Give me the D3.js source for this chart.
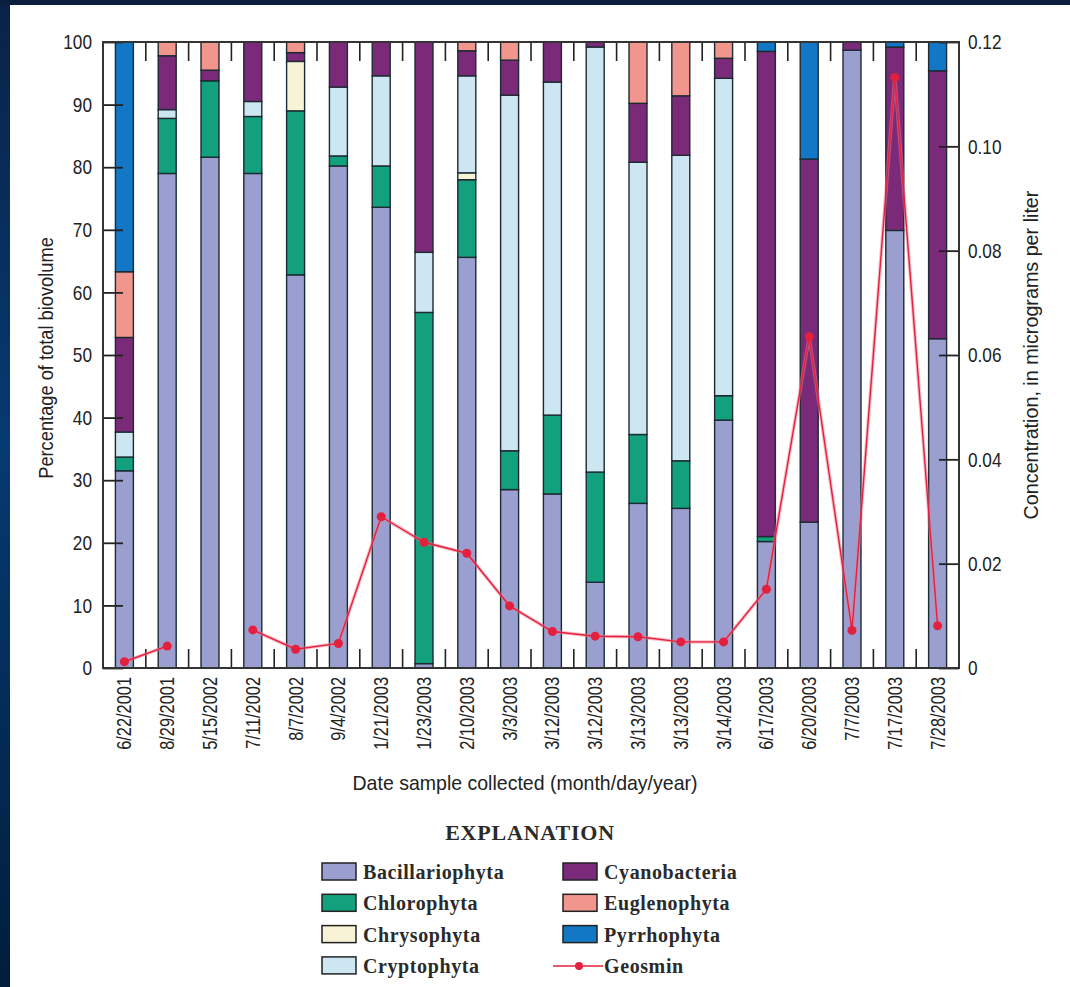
<!DOCTYPE html>
<html>
<head>
<meta charset="utf-8">
<script src="https://cdn.jsdelivr.net/npm/d3@7"></script>
<style>
  html, body { margin: 0; padding: 0; background: #ffffff; }
  svg { display: block; }
  .sans { font-family: "Liberation Sans", Arial, sans-serif; fill: #222; }
  .serif { font-family: "Liberation Serif", "DejaVu Serif", serif; font-weight: bold; fill: #2a2a2a; }
</style>
</head>
<body>
<svg id="chart" width="1070" height="987"></svg>
<script>
// Sample dates (two samples on 3/12 and 3/13/2003)
const dates = ["6/22/2001", "8/29/2001", "5/15/2002", "7/11/2002", "8/7/2002", "9/4/2002",
  "1/21/2003", "1/23/2003", "2/10/2003", "3/3/2003", "3/12/2003", "3/12/2003", "3/13/2003",
  "3/13/2003", "3/14/2003", "6/17/2003", "6/20/2003", "7/7/2003", "7/17/2003", "7/28/2003"];

// Percentage of total biovolume by algal division
const bacillariophyta = [31.5, 79.0, 81.6, 79.0, 62.8, 80.2, 73.6, 0.7, 65.6, 28.5, 27.8, 13.7, 26.3, 25.5, 39.6, 20.2, 23.3, 98.7, 69.9, 52.6];
const chlorophyta     = [2.2, 8.8, 12.2, 9.1, 26.2, 1.6, 6.6, 56.1, 12.4, 6.2, 12.6, 17.6, 11.0, 7.6, 3.9, 0.8, 0, 0, 0, 0];
const chrysophyta     = [0, 0, 0, 0, 7.9, 0, 0, 0, 1.1, 0, 0, 0, 0, 0, 0, 0, 0, 0, 0, 0];
const cryptophyta     = [4.0, 1.4, 0, 2.4, 0, 11.0, 14.4, 9.6, 15.5, 56.8, 53.2, 67.9, 43.5, 48.8, 50.7, 0, 0, 0, 0, 0];
const cyanobacteria   = [15.1, 8.6, 1.7, 9.5, 1.4, 7.2, 5.4, 33.6, 4.0, 5.6, 6.4, 0.8, 9.4, 9.5, 3.2, 77.5, 58.0, 1.3, 29.3, 42.8];
const euglenophyta    = [10.5, 2.2, 4.5, 0, 1.7, 0, 0, 0, 1.4, 2.9, 0, 0, 9.8, 8.6, 2.6, 0, 0, 0, 0, 0];
const pyrrhophyta     = [36.7, 0, 0, 0, 0, 0, 0, 0, 0, 0, 0, 0, 0, 0, 0, 1.5, 18.7, 0, 0.8, 4.6];

// Geosmin concentration, micrograms per liter (null = not sampled)
const geosmin = [0.0012, 0.0042, null, 0.0073, 0.0036, 0.0047, 0.0290, 0.0241, 0.0220, 0.0119,
  0.0070, 0.0061, 0.0060, 0.0050, 0.0050, 0.0151, 0.0635, 0.0072, 0.1132, 0.0081];

const divisions = ["Bacillariophyta", "Chlorophyta", "Chrysophyta", "Cryptophyta", "Cyanobacteria", "Euglenophyta", "Pyrrhophyta"];
const divisionValues = [bacillariophyta, chlorophyta, chrysophyta, cryptophyta, cyanobacteria, euglenophyta, pyrrhophyta];
const divisionColors = ["#9a9fd0", "#13a07c", "#f8f3d6", "#cde7f2", "#7a2a78", "#f1968c", "#1278c6"];

const percentTicks = [0, 10, 20, 30, 40, 50, 60, 70, 80, 90, 100];
const concTicks = [0, 0.02, 0.04, 0.06, 0.08, 0.10, 0.12];

// Horizontal squeeze that gives the sans text a condensed look
const SQ = 0.82;

const svg = d3.select("#chart");

// Navy page frame along the top and left edges
const defs = svg.append("defs");
const grad = defs.append("linearGradient").attr("id", "frameGrad")
  .attr("x1", 0).attr("y1", 0).attr("x2", 0).attr("y2", 1);
grad.append("stop").attr("offset", "0%").attr("stop-color", "#0a2247");
grad.append("stop").attr("offset", "45%").attr("stop-color", "#063a72");
grad.append("stop").attr("offset", "100%").attr("stop-color", "#011d3c");
svg.append("rect").attr("width", 1070).attr("height", 987).attr("fill", "url(#frameGrad)");
svg.append("rect").attr("x", 0).attr("y", 0).attr("width", 1070).attr("height", 5).attr("fill", "#0a1f40");
svg.append("rect").attr("x", 10).attr("y", 5).attr("width", 1060).attr("height", 982).attr("fill", "#ffffff");

const plot = { left: 103, right: 959, top: 42, bottom: 668 };

const x = d3.scaleBand().domain(d3.range(dates.length))
  .range([plot.left, plot.right]).paddingInner(0.58).paddingOuter(0.29);
const y = d3.scaleLinear().domain([0, 100]).range([plot.bottom, plot.top]);
const y2 = d3.scaleLinear().domain([0, 0.12]).range([plot.bottom, plot.top]);

// Stacked bars
const rows = dates.map((d, i) => {
  const r = { i };
  divisions.forEach((k, j) => { r[k] = divisionValues[j][i]; });
  return r;
});
const series = d3.stack().keys(divisions)(rows);

const barG = svg.append("g");
series.forEach((layer, j) => {
  barG.append("g")
    .attr("fill", divisionColors[j])
    .attr("stroke", "#1d2a33")
    .attr("stroke-width", 1.4)
    .selectAll("rect")
    .data(layer.filter(d => d[1] - d[0] > 0))
    .join("rect")
    .attr("x", d => x(d.data.i))
    .attr("width", x.bandwidth())
    .attr("y", d => y(d[1]))
    .attr("height", d => y(d[0]) - y(d[1]));
});

// Category separator ticks along top and bottom edges
const gap = (x.step() - x.bandwidth()) / 2;
const bounds = d3.range(1, dates.length).map(i => x(i) - gap);
const tickG = svg.append("g").attr("stroke", "#222").attr("stroke-width", 1.6);
tickG.selectAll("line.b").data(bounds).join("line").attr("class", "b")
  .attr("x1", d => d).attr("x2", d => d).attr("y1", plot.bottom).attr("y2", plot.bottom - 19);
tickG.selectAll("line.t").data(bounds).join("line").attr("class", "t")
  .attr("x1", d => d).attr("x2", d => d).attr("y1", plot.top).attr("y2", plot.top + 19);

// Left axis (percentage)
const leftAxis = svg.append("g").attr("transform", `translate(${plot.left},0)`)
  .call(d3.axisLeft(y).tickValues(percentTicks).tickSize(-20).tickPadding(11).tickFormat(d3.format("d")));
leftAxis.select(".domain").remove();
leftAxis.selectAll(".tick line").attr("stroke", "#222").attr("stroke-width", 1.8);
leftAxis.selectAll("text").attr("class", "sans").style("font-size", "21px").attr("fill", "#222")
  .attr("x", -11 / SQ).attr("transform", `scale(${SQ},1)`);

// Right axis (concentration)
const rightAxis = svg.append("g").attr("transform", `translate(${plot.right},0)`)
  .call(d3.axisRight(y2).tickValues(concTicks).tickSize(-20).tickPadding(8)
    .tickFormat(d => d === 0 ? "0" : d.toFixed(2)));
rightAxis.select(".domain").remove();
rightAxis.selectAll(".tick line").attr("stroke", "#222").attr("stroke-width", 1.8);
rightAxis.selectAll("text").attr("class", "sans").style("font-size", "21px").attr("fill", "#222")
  .attr("x", 9 / SQ).attr("transform", `scale(${SQ},1)`);

// Plot frame
svg.append("rect")
  .attr("x", plot.left).attr("y", plot.top)
  .attr("width", plot.right - plot.left).attr("height", plot.bottom - plot.top)
  .attr("fill", "none").attr("stroke", "#333").attr("stroke-width", 2);

// Date labels, rotated
svg.append("g").selectAll("text").data(dates).join("text")
  .attr("class", "sans")
  .attr("transform", (d, i) => `translate(${x(i) + x.bandwidth() / 2},${plot.bottom + 9}) rotate(-90) scale(${SQ},1)`)
  .attr("dy", "0.35em")
  .attr("text-anchor", "end")
  .style("font-size", "20px")
  .text(d => d);

// Axis titles
svg.append("text").attr("class", "sans")
  .attr("transform", `translate(46,${(plot.top + plot.bottom) / 2 + 3}) rotate(-90) scale(0.87,1)`)
  .attr("text-anchor", "middle").attr("dy", "0.35em").style("font-size", "21px")
  .text("Percentage of total biovolume");
svg.append("text").attr("class", "sans")
  .attr("transform", `translate(1031,${(plot.top + plot.bottom) / 2}) rotate(-90) scale(0.94,1)`)
  .attr("text-anchor", "middle").attr("dy", "0.35em").style("font-size", "21px")
  .text("Concentration, in micrograms per liter");
svg.append("text").attr("class", "sans")
  .attr("transform", `translate(${(plot.left + plot.right) / 2 - 6},790) scale(0.93,1)`)
  .attr("text-anchor", "middle").style("font-size", "21px")
  .text("Date sample collected (month/day/year)");

// Geosmin line with markers
const pts = geosmin.map((v, i) => ({ i, v }));
const line = d3.line()
  .defined(d => d.v !== null)
  .x(d => x(d.i) + x.bandwidth() / 2)
  .y(d => y2(d.v));
svg.append("path").datum(pts)
  .attr("fill", "none").attr("stroke", "#f27a90").attr("stroke-opacity", 0.5)
  .attr("stroke-width", 3.5).attr("d", line);
svg.append("path").datum(pts)
  .attr("fill", "none").attr("stroke", "#e3203d").attr("stroke-width", 1.4).attr("d", line);
svg.append("g").selectAll("circle").data(pts.filter(d => d.v !== null)).join("circle")
  .attr("cx", d => x(d.i) + x.bandwidth() / 2)
  .attr("cy", d => y2(d.v))
  .attr("r", 4.5)
  .attr("fill", "#e3203d");

// Legend
const legend = svg.append("g");
legend.append("text").attr("class", "serif")
  .attr("x", 530).attr("y", 840).attr("text-anchor", "middle")
  .style("font-size", "22px").style("letter-spacing", "0.8px")
  .text("EXPLANATION");

const legendItems = divisions.map((name, j) => ({ name, color: divisionColors[j], kind: "box" }))
  .concat([{ name: "Geosmin", color: "#e3203d", kind: "line" }]);
const colOf = k => (k < 4 ? 0 : 1);
const rowOf = k => (k < 4 ? k : k - 4);
const colX = [322, 563];
legendItems.forEach((item, k) => {
  const gx = colX[colOf(k)];
  const gy = 863 + rowOf(k) * 31.3;
  const g = legend.append("g").attr("transform", `translate(${gx},${gy})`);
  if (item.kind === "box") {
    g.append("rect").attr("width", 34).attr("height", 17)
      .attr("fill", item.color).attr("stroke", "#222").attr("stroke-width", 1.5);
  } else {
    g.append("line").attr("x1", -10).attr("x2", 40).attr("y1", 9).attr("y2", 9)
      .attr("stroke", item.color).attr("stroke-width", 1.5);
    g.append("circle").attr("cx", 16).attr("cy", 9).attr("r", 4).attr("fill", item.color);
  }
  g.append("text").attr("class", "serif")
    .attr("x", 41).attr("y", 9).attr("dy", "0.35em")
    .style("font-size", "20px").style("letter-spacing", "0.6px")
    .text(item.name);
});
</script>
</body>
</html>
